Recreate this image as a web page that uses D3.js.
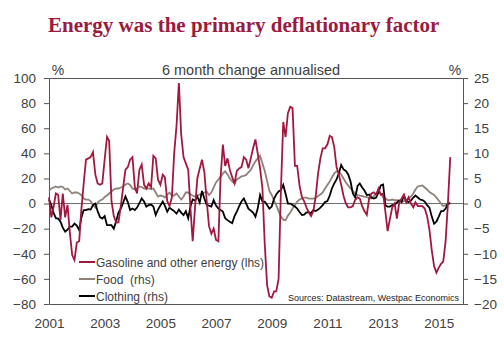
<!DOCTYPE html>
<html>
<head>
<meta charset="utf-8">
<script src="https://cdn.jsdelivr.net/npm/d3@7"></script>
<style>
  body { margin: 0; background: #fff; }
  svg { font-family: "Liberation Sans", Arial, sans-serif; }
</style>
</head>
<body>
<div id="chart"></div>
<script>

// monthly series, Jan 2001 onwards
const startYear = 2001;
const yearTicks  = [2001, 2003, 2005, 2007, 2009, 2011, 2013, 2015];
const leftTicks  = [-80, -60, -40, -20, 0, 20, 40, 60, 80, 100];
const rightTicks = [-20, -15, -10, -5, 0, 5, 10, 15, 20, 25];
const seriesNames = ["Gasoline and other energy (lhs)", "Food  (rhs)", "Clothing (rhs)"];

const energy = [
  5, -11, -3, 8, 7, -13, 8, -11, -1, -23,
  -41, -45, -31, -30, -5, 16, 35, 36, 37, 41,
  23, 16, 15, 16, 35, 53, 50, 2, -10, -15,
  -15, -2, 13, 27, 29, 35, 37, 13, 8, 27,
  31, 15, 12, 16, 13, 38, 36, 19, 15, 23,
  21, 2, -2, 5, 40, 62, 96, 55, 37, 32,
  27, -5, -30, -3, 20, 28, 35, 25, 2, -18,
  -24, -20, -29, -30, 20, 47, 30, 36, 27, 21,
  16, 26, 28, 29, 37, 35, 28, 36, 44, 51,
  40, 28, 12, -32, -65, -74, -75, -70, -70, -60,
  10, 65, 53, 72, 77, 76, 30, 30, 14, 5,
  2, -3, -7, -10, -6, 6, 24, 36, 44, 44,
  47, 54, 53, 45, 29, 23, 15, 6, 0, -3,
  -3, -2, 3, 5, 4, -2, -6, -9, 4, 8,
  9, 7, 12, 7, 8, -7, -22, -12, -3, 0,
  -12, 1, 4, 7, 1, 5, 0, -3, 1, -2,
  -2, -2, -4, -10, -21, -37, -50, -55, -51, -48,
  -46, -30, 0, 37
];

const food = [
  2.5, 3, 3.2, 3.4, 3.2, 3.4, 3.3, 2.8, 3, 2.5,
  2, 2.2, 2.2, 2, 1.7, 1, 0.8, 0.8, 0.5, -0.3,
  -0.8, 0.2, 0.6, 0.8, 1.3, 1.6, 2, 2.4, 2.8, 3,
  3, 3.2, 3.4, 3.8, 4, 3.7, 3, 2.8, 3, 3.4,
  3.3, 3, 3, 3, 2.9, 3, 2.2, 1.4, 1.6, 1.5,
  1.2, 1.8, 2.2, 1.6, 1.6, 2, 1.4, 0.8, 1.4, 2.2,
  2.2, 1.8, 1.6, 1.4, 1.6, 1.8, 2, 2.2, 2.4, 1.7,
  2.2, 3.2, 4.2, 4.8, 5.3, 6, 6.4, 5.8, 5, 4.4,
  4, 4.8, 5.1, 5.4, 5.5, 5.7, 6.2, 6.7, 7.6, 8.4,
  9, 9.5, 8, 6.5, 4.5, 2.5, 1.7, 0.6, -0.3, -1.5,
  -2.6, -3.2, -3.3, -2.4, -1.8, -1, -0.3, 0.4, 0.8, 1,
  1.2, 1.2, 1, 1, 1, 1.1, 1.5, 1.8, 2.2, 3,
  3.7, 4.4, 5.2, 6, 6.4, 6.3, 5.8, 5, 4.2, 3.6,
  3, 2.5, 2, 1.7, 1.6, 1.5, 1.4, 1.3, 1.1, 1,
  1.5, 2, 2.3, 2, 1.3, 1, 0.7, 0.7, 0.8, 0.7,
  0.7, 0.6, 0.4, 0.5, 0.7, 1, 1.4, 2, 2.8, 3.4,
  3.5, 3.6, 3.2, 2.8, 2.3, 2, 1.7, 1.2, 0.6, 0,
  -0.5, -0.3, 0, 0
];

const clothing = [
  0.8, -0.3, -1.8, -2.9, -3, -3.6, -4.8, -5.6, -5.2, -4.6,
  -4.6, -4, -4.4, -5.3, -2.8, -1.3, -1.3, -1.1, -1.2, -0.3,
  0, -1.5, -2.7, -3, -2.5, -4.3, -4.3, -4.3, -5, -3.5,
  -1.8, -1, 0.2, 1.4, 0.3, -1.3, -1, -1.3, -0.8, 0.1,
  1, 0.4, -0.6, -0.3, -0.2, -0.6, -2.3, -1.2, -0.4, 0.4,
  -0.4, -1.6, -0.8, -1.2, -1.5, -2, -1.2, -1.8, -2.3, -1.5,
  -2.9, -0.5, 0.8, 0.6, 1.4, 0.2, 2.5, 1, -0.3, -0.4,
  -0.6, 0.7, -0.4, -1, -1.3, -1.6, -2.9, -3.3, -3.6, -3.9,
  -2.5, -1.6, -0.5, 0.4, 1, 0, -1, -1.4, -1.8, -2.6,
  -1, 1.7, 0.4, 0.4, -0.3, -1, -0.6, 1, 1.8, 2.4,
  2.7, 3.7, 2, 0, 0, -0.3, -0.6, -1, -1.7, -2.3,
  -2.2, -1.8, -1.7, -1.9, -1.3, -1.5, -1.2, -0.8, -0.3, 0.3,
  0.5, 1.6, 3, 4, 4.8, 6, 7.7, 6.8, 6.5, 5.8,
  4.4, 2, 1.2, 3.5, 4, 3.2, 2.6, 1.7, 1.8, 1.2,
  1, 1.2, 2.2, 3.6, 3.8, -0.4, -0.6, -0.6, -0.3, -0.2,
  0.2, 0.6, 0.3, 1.6, 0.4, 0.3, 0.6, 1.2, 1.6, 1.2,
  0.8, 0.7, 0.4, -0.3, -0.8, -2.6, -4, -3.6, -2.6, -1.5,
  -1.5, -1, 0, 0.1
];

function drawChart(tagName, xSize = 504, ySize = 343) {

    const left = 49, right = 463, top = 78, bottom = 304;
    const axisColor = "#555";
    const textColor = "#404040";

    const months = energy.map((d, i) => new Date(startYear, i, 1));

    const svg = d3
        .select(tagName)
        .append('svg')
        .attr('width', xSize)
        .attr('height', ySize)

    const xScale = d3
        .scaleTime()
        .domain([new Date(2001, 0, 1), new Date(2015, 10, 15)])
        .range([left, right])

    const yLeft = d3
        .scaleLinear()
        .domain([-80, 100])
        .range([bottom, top])

    const yRight = d3
        .scaleLinear()
        .domain([-20, 25])
        .range([bottom, top])

    // Title
    svg.append('text')
        .attr('x', 48)
        .attr('y', 32)
        .style('font-family', '"Liberation Serif", "Times New Roman", serif')
        .style('font-weight', 'bold')
        .style('font-size', '21px')
        .style('fill', '#9b1b40')
        .text("Energy was the primary deflationary factor")

    svg.append('text')
        .attr('x', 251)
        .attr('y', 75)
        .attr('text-anchor', 'middle')
        .style('font-size', '14.5px')
        .style('fill', textColor)
        .text("6 month change annualised")

    svg.append('text')
        .attr('x', 58)
        .attr('y', 75)
        .attr('text-anchor', 'middle')
        .style('font-size', '14px')
        .style('fill', textColor)
        .text("%")

    svg.append('text')
        .attr('x', 455)
        .attr('y', 75)
        .attr('text-anchor', 'middle')
        .style('font-size', '14px')
        .style('fill', textColor)
        .text("%")

    // zero line
    svg.append('line')
        .attr('x1', left).attr('x2', right)
        .attr('y1', yLeft(0)).attr('y2', yLeft(0))
        .style('stroke', '#6b6b6b')
        .style('stroke-width', 1)

    // Axes
    const gLeft = svg.append('g')
        .attr('transform', `translate(${left}, 0)`)
        .call(d3.axisLeft(yLeft).tickValues(leftTicks).tickSize(5).tickSizeOuter(0).tickPadding(8))

    const gRight = svg.append('g')
        .attr('transform', `translate(${right}, 0)`)
        .call(d3.axisRight(yRight).tickValues(rightTicks).tickSize(5).tickSizeOuter(0).tickPadding(6))

    const gBottom = svg.append('g')
        .attr('transform', `translate(0, ${bottom})`)
        .call(d3.axisBottom(xScale)
            .tickValues(yearTicks.map(y => new Date(y, 0, 1)))
            .tickSize(0)
            .tickPadding(14)
            .tickFormat(d3.timeFormat('%Y')))

    const gTop = svg.append('g')
        .attr('transform', `translate(0, ${top})`)
        .call(d3.axisTop(xScale).tickValues([]).tickSizeOuter(0))

    ;[gLeft, gRight, gBottom, gTop].forEach(g => {
        g.selectAll('path, line').style('stroke', axisColor)
        g.selectAll('text')
            .style('font-size', '13.5px')
            .style('font-family', '"Liberation Sans", Arial, sans-serif')
            .style('fill', textColor)
    })

    // Lines
    const lineLeft = d3.line()
        .x((d, i) => xScale(months[i]))
        .y(d => yLeft(d))

    const lineRight = d3.line()
        .x((d, i) => xScale(months[i]))
        .y(d => yRight(d))

    svg.append('path')
        .datum(food)
        .attr('d', lineRight)
        .style('fill', 'none')
        .style('stroke', '#8f8279')
        .style('stroke-width', 1.8)

    svg.append('path')
        .datum(clothing)
        .attr('d', lineRight)
        .style('fill', 'none')
        .style('stroke', '#000')
        .style('stroke-width', 1.8)

    svg.append('path')
        .datum(energy)
        .attr('d', lineLeft)
        .style('fill', 'none')
        .style('stroke', '#a3173f')
        .style('stroke-width', 1.8)

    // Legend
    const colors = ['#a3173f', '#8f8279', '#000'];
    const legend = svg.append('g')
        .selectAll('g')
        .data(seriesNames)
        .enter()
        .append('g')
        .attr('transform', (d, i) => `translate(79, ${262 + i * 17})`)

    legend.append('line')
        .attr('x1', 0).attr('x2', 16)
        .style('stroke', (d, i) => colors[i])
        .style('stroke-width', 2)

    legend.append('text')
        .attr('x', 17)
        .attr('y', 4.5)
        .style('font-size', '12px')
        .style('white-space', 'pre')
        .style('fill', textColor)
        .text(d => d)

    // Source
    svg.append('text')
        .attr('x', 459)
        .attr('y', 301)
        .attr('text-anchor', 'end')
        .style('font-size', '9px')
        .style('fill', '#222')
        .text("Sources: Datastream, Westpac Economics")
}

drawChart('#chart');
</script>
</body>
</html>
